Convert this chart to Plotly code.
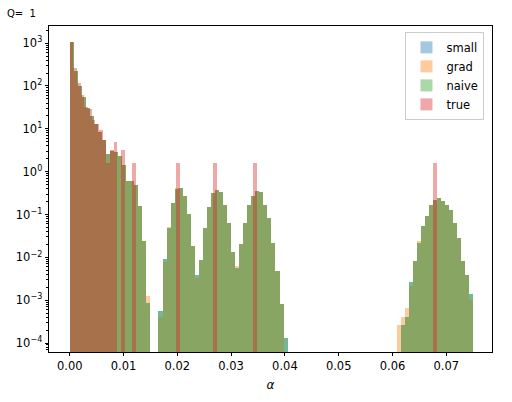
import plotly.graph_objects as go

# ---- histogram bins (density histograms) ----
EST_BIN_START = 0.0
EST_BIN_WIDTH = 0.00075
TRUE_BIN_START = 0.0
TRUE_BIN_WIDTH = 0.000683

series_names = ["small", "grad", "naive", "true"]

small = [
    1090, 221, 100, 54, 31, 20, 13, 8.3, 5.4, 2.65,
    3.0, 2.9, 2.3, 1.42, 0.61, 0.59, 0.48, 0.161, 0.024, 8.4e-4,
    0, 0, 5.6e-4, 9.1e-3, 0.049, 0.186, 0.39, 0.41, 0.265, 0.1,
    0.0186, 0.0038, 0.0087, 0.049, 0.148, 0.316, 0.377, 0.33, 0.17, 0.065,
    0.013, 0.0055, 0.020, 0.065, 0.164, 0.275, 0.35, 0.33, 0.164, 0.084,
    0.022, 0.0049, 8.3e-4, 1.3e-4, 0, 0, 0, 0, 0, 0,
    0, 0, 0, 0, 0, 0, 0, 0, 0, 0,
    0, 0, 0, 0, 0, 0, 0, 0, 0, 0,
    0, 0, 2.7e-4, 4.1e-4, 2.65e-3, 8.4e-3, 0.022, 0.054, 0.091, 0.164,
    0.22, 0.242, 0.204, 0.17, 0.124, 0.065, 0.029, 8.4e-3, 3.8e-3, 1.4e-3,
]

grad = [
    1090, 221, 100, 54, 31, 20, 13, 8.3, 5.4, 2.65,
    3.0, 2.9, 2.3, 1.42, 0.61, 0.59, 0.48, 0.161, 0.024, 1.24e-3,
    0, 0, 4.0e-4, 7.6e-3, 0.052, 0.186, 0.41, 0.41, 0.265, 0.1,
    0.0186, 0.0033, 0.0087, 0.049, 0.148, 0.316, 0.377, 0.33, 0.17, 0.065,
    0.013, 0.0064, 0.020, 0.065, 0.164, 0.275, 0.35, 0.33, 0.164, 0.084,
    0.022, 0.0049, 8.3e-4, 0, 0, 0, 0, 0, 0, 0,
    0, 0, 0, 0, 0, 0, 0, 0, 0, 0,
    0, 0, 0, 0, 0, 0, 0, 0, 0, 0,
    0, 2.7e-4, 4.0e-4, 6.6e-4, 2.2e-3, 8.4e-3, 0.024, 0.054, 0.091, 0.164,
    0.22, 0.242, 0.204, 0.17, 0.124, 0.065, 0.029, 8.4e-3, 3.8e-3, 1.0e-3,
]

naive = [
    1090, 221, 100, 54, 31, 20, 13, 8.3, 5.4, 2.65,
    3.0, 2.9, 2.3, 1.42, 0.61, 0.59, 0.48, 0.161, 0.024, 8.4e-4,
    0, 0, 5.6e-4, 9.1e-3, 0.049, 0.186, 0.39, 0.41, 0.265, 0.1,
    0.0186, 0.0038, 0.0087, 0.049, 0.148, 0.316, 0.377, 0.33, 0.17, 0.065,
    0.013, 0.0055, 0.020, 0.065, 0.164, 0.275, 0.35, 0.33, 0.164, 0.084,
    0.022, 0.0049, 8.3e-4, 1.3e-4, 0, 0, 0, 0, 0, 0,
    0, 0, 0, 0, 0, 0, 0, 0, 0, 0,
    0, 0, 0, 0, 0, 0, 0, 0, 0, 0,
    0, 0, 2.7e-4, 4.1e-4, 2.65e-3, 8.4e-3, 0.022, 0.054, 0.091, 0.164,
    0.22, 0.242, 0.204, 0.17, 0.124, 0.065, 0.029, 8.4e-3, 3.8e-3, 1.4e-3,
]

true = [
    1090, 265, 115, 61, 31.6, 29, 16, 13, 9.6, 5.5,
    1.6, 3.2, 4.9, 0, 3.2, 0, 0, 1.6, 0, 0,
    0, 0, 0, 0, 0, 0, 0, 0, 0, 1.6,
    0, 0, 0, 0, 0, 0, 0, 0, 0, 1.6,
    0, 0, 0, 0, 0, 0, 0, 0, 0, 0,
    1.6, 0, 0, 0, 0, 0, 0, 0, 0, 0,
    0, 0, 0, 0, 0, 0, 0, 0, 0, 0,
    0, 0, 0, 0, 0, 0, 0, 0, 0, 0,
    0, 0, 0, 0, 0, 0, 0, 0, 0, 0,
    0, 0, 0, 0, 0, 0, 0, 0, 0, 1.6,
]

x_tick_vals = [0.00, 0.01, 0.02, 0.03, 0.04, 0.05, 0.06, 0.07]
x_tick_text = ["0.00", "0.01", "0.02", "0.03", "0.04", "0.05", "0.06", "0.07"]
y_tick_vals = [1e-4, 1e-3, 1e-2, 1e-1, 1e0, 1e1, 1e2, 1e3]
y_tick_text = ["10<sup>\u22124</sup>", "10<sup>\u22123</sup>", "10<sup>\u22122</sup>",
               "10<sup>\u22121</sup>", "10<sup>0</sup>", "10<sup>1</sup>",
               "10<sup>2</sup>", "10<sup>3</sup>"]

colors = {"small": "#1f77b4", "grad": "#ff7f0e", "naive": "#2ca02c", "true": "#d62728"}
ALPHA = 0.4
FONT = "DejaVu Sans"


def centers(start, width, n):
    return [start + (i + 0.5) * width for i in range(n)]


def clean(vals):
    return [v if v > 0 else None for v in vals]


fig = go.Figure()
data = {"small": (small, EST_BIN_START, EST_BIN_WIDTH),
        "grad": (grad, EST_BIN_START, EST_BIN_WIDTH),
        "naive": (naive, EST_BIN_START, EST_BIN_WIDTH),
        "true": (true, TRUE_BIN_START, TRUE_BIN_WIDTH)}
for name in series_names:
    vals, start, width = data[name]
    fig.add_trace(go.Bar(
        x=centers(start, width, len(vals)),
        y=clean(vals),
        width=width,
        name=name,
        marker=dict(color=colors[name], line=dict(width=0)),
        opacity=ALPHA,
        hoverinfo="skip",
    ))

fig.update_layout(
    width=512, height=402,
    margin=dict(l=49, r=20, t=26, b=46),
    barmode="overlay",
    bargap=0,
    plot_bgcolor="white",
    paper_bgcolor="white",
    font=dict(family=FONT, size=11.5, color="black"),
    title=dict(text="Q=\u00a0\u00a01", x=7 / 512, xanchor="left", xref="container",
               y=1 - 13 / 402, yanchor="middle", yref="container",
               font=dict(family=FONT, size=10, color="black")),
    showlegend=True,
    legend=dict(x=0.983, y=0.982, xanchor="right", yanchor="top",
                bgcolor="rgba(255,255,255,0.8)", bordercolor="#cccccc", borderwidth=1,
                font=dict(family=FONT, size=11.5, color="black"),
                traceorder="normal", itemclick=False, itemdoubleclick=False),
    xaxis=dict(
        range=[-0.00385, 0.0785],
        tickmode="array", tickvals=x_tick_vals, ticktext=x_tick_text,
        ticks="outside", ticklen=3.5, tickwidth=0.8, tickcolor="black",
        showline=True, linecolor="black", linewidth=0.8, mirror=True,
        showgrid=False, zeroline=False,
        title=dict(text="<i>\u03b1</i>", font=dict(family=FONT, size=12, color="black"), standoff=8),
    ),
    yaxis=dict(
        type="log",
        range=[-4.21, 3.40],
        tickmode="array", tickvals=y_tick_vals, ticktext=y_tick_text,
        ticks="outside", ticklen=3.5, tickwidth=0.8, tickcolor="black",
        minor=dict(ticks="outside", ticklen=2, tickwidth=0.6, tickcolor="black", dtick="D1"),
        showline=True, linecolor="black", linewidth=0.8, mirror=True,
        showgrid=False, zeroline=False,
    ),
)

fig.write_html("out.html", config={"displayModeBar": False})
